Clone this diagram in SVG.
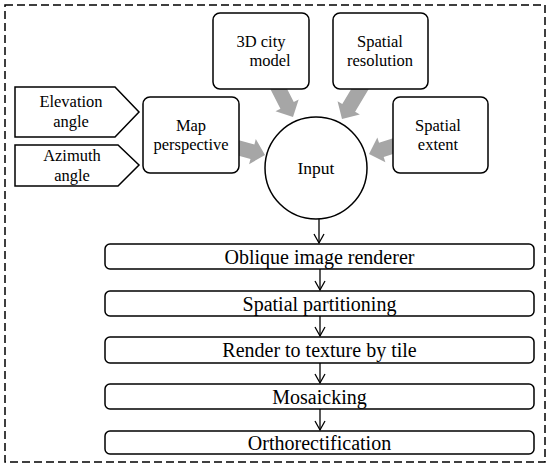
<svg xmlns="http://www.w3.org/2000/svg" xmlns:xlink="http://www.w3.org/1999/xlink" width="550" height="472" viewBox="0 0 550 472">
<style>
.box{fill:#fff;stroke:#000;stroke-width:1.5}
text{font-family:'Liberation Serif','Times New Roman',Times,serif;fill:#000;text-anchor:middle}
.t{font-size:16.5px}
.s{font-size:20px}
.ln{stroke:#000;stroke-width:1.3;fill:none}
.g{fill:#a6a6a6}
</style>
<defs>
<polygon id="garrow" points="0,0 -13,-13 -13,-7.5 -45,-7.5 -45,7.5 -13,7.5 -13,13"/>
<marker id="v" markerWidth="12" markerHeight="12" refX="10" refY="6" orient="auto" markerUnits="userSpaceOnUse">
<path d="M1,1 L10,6 L1,11" fill="none" stroke="#000" stroke-width="1.3"/>
</marker>
</defs>
<rect x="5" y="5" width="540" height="457" fill="#fff" stroke="#000" stroke-width="1.5" stroke-dasharray="8,4"/>
<g id="input-arrows" class="g">
<use xlink:href="#garrow" transform="translate(293,117) rotate(63)"/>
<use xlink:href="#garrow" transform="translate(342,119) rotate(121)"/>
<use xlink:href="#garrow" transform="translate(265,155) rotate(15)"/>
<use xlink:href="#garrow" transform="translate(369,154) rotate(162)"/>
</g>
<g id="connectors">
<line class="ln" x1="319" y1="218" x2="319" y2="243" marker-end="url(#v)"/>
<line class="ln" x1="320" y1="269" x2="320" y2="290" marker-end="url(#v)"/>
<line class="ln" x1="320" y1="316" x2="320" y2="336" marker-end="url(#v)"/>
<line class="ln" x1="320" y1="363" x2="320" y2="383" marker-end="url(#v)"/>
<line class="ln" x1="320" y1="409" x2="320" y2="430" marker-end="url(#v)"/>
</g>
<g id="elevation">
<polygon class="box" points="15,87 115,87 139,112 115,137 15,137"/>
<text class="t" x="71" y="107">Elevation</text>
<text class="t" x="71" y="127">angle</text>
</g>
<g id="azimuth">
<polygon class="box" points="15,145 118,145 139,165 118,186 15,186"/>
<text class="t" x="72" y="161">Azimuth</text>
<text class="t" x="72" y="181">angle</text>
</g>
<g id="map-perspective">
<rect class="box" x="143" y="97" width="96" height="76" rx="7"/>
<text class="t" x="191" y="131">Map</text>
<text class="t" x="191" y="150">perspective</text>
</g>
<g id="city-model">
<rect class="box" x="213" y="13" width="96" height="76" rx="7"/>
<text class="t" x="261" y="47">3D city</text>
<text class="t" x="270" y="66">model</text>
</g>
<g id="spatial-resolution">
<rect class="box" x="333" y="13" width="95" height="76" rx="7"/>
<text class="t" x="380" y="47">Spatial</text>
<text class="t" x="380" y="66">resolution</text>
</g>
<g id="spatial-extent">
<rect class="box" x="393" y="97" width="95" height="76" rx="7"/>
<text class="t" x="438" y="131">Spatial</text>
<text class="t" x="438" y="150">extent</text>
</g>
<g id="input">
<circle class="box" cx="316" cy="168" r="51"/>
<text class="t" x="316" y="174" style="font-size:17.5px">Input</text>
</g>
<g id="renderer">
<rect class="box" x="105" y="244" width="429" height="25" rx="5"/>
<text class="s" x="319.5" y="263.5">Oblique image renderer</text>
</g>
<g id="partitioning">
<rect class="box" x="105" y="291" width="429" height="25" rx="5"/>
<text class="s" x="319.5" y="310.5">Spatial partitioning</text>
</g>
<g id="render-texture">
<rect class="box" x="105" y="337" width="429" height="26" rx="5"/>
<text class="s" x="319.5" y="357">Render to texture by tile</text>
</g>
<g id="mosaicking">
<rect class="box" x="105" y="384" width="429" height="25" rx="5"/>
<text class="s" x="319.5" y="403.5">Mosaicking</text>
</g>
<g id="orthorectification">
<rect class="box" x="105" y="431" width="429" height="23" rx="5"/>
<text class="s" x="319.5" y="449.5">Orthorectification</text>
</g>
</svg>
